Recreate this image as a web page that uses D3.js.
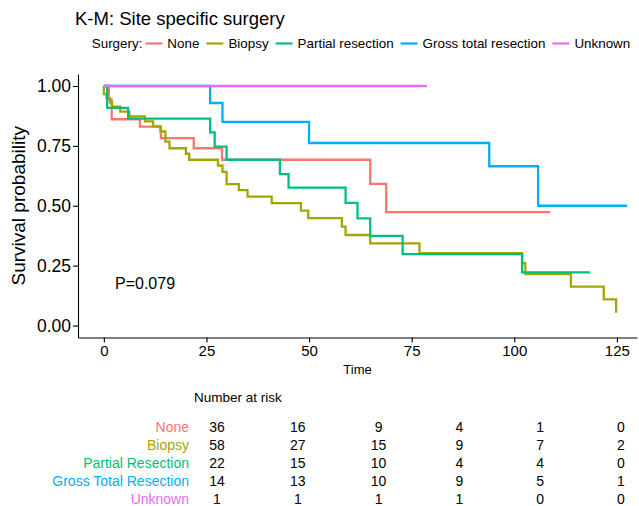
<!DOCTYPE html>
<html>
<head>
<meta charset="utf-8">
<script src="https://cdn.jsdelivr.net/npm/d3@7"></script>
<style>
  body { margin: 0; background: #fff; }
  svg { display: block; font-family: "Liberation Sans", Arial, Helvetica, sans-serif; }
</style>
</head>
<body>
<div id="chart"></div>
<script>
const width = 639;
const height = 506;

// groups, colours and the number-at-risk table
const groups = ["None", "Biopsy", "Partial resection", "Gross total resection", "Unknown"];
const riskLabels = ["None", "Biopsy", "Partial Resection", "Gross Total Resection", "Unknown"];
const colors = ["#F8766D", "#A3A500", "#00BF7D", "#00B0F6", "#E76BF3"];
const xTicks = [0, 25, 50, 75, 100, 125];
const yTicks = [0, 0.25, 0.5, 0.75, 1];
const riskTimes = [0, 25, 50, 75, 100, 125];
const riskNone = [36, 16, 9, 4, 1, 0];
const riskBiopsy = [58, 27, 15, 9, 7, 2];
const riskPartial = [22, 15, 10, 4, 4, 0];
const riskGross = [14, 13, 10, 9, 5, 1];
const riskUnknown = [1, 1, 1, 1, 0, 0];
const pValue = "P=0.079";

// K-M step curves (time, survival)
const noneTime = [0, 1.2, 1.9, 8.8, 13.9, 21.9, 28.8, 64.9, 68.8, 108.8];
const noneSurv = [1, 0.944, 0.861, 0.83, 0.782, 0.74, 0.692, 0.591, 0.473, 0.473];

const biopsyTime = [0, 0, 0.65, 1.5, 2.0, 4.0, 6.2, 10, 12, 13.8, 15.0, 16.0, 20.0, 20.8, 27.8, 28.9, 29.9, 32.9, 35, 40.9, 48, 49.8, 58, 58.9, 64.9, 76.9, 101.9, 102.7, 113.8, 121.8, 124.8];
const biopsySurv = [1, 0.966, 0.948, 0.931, 0.914, 0.893, 0.873, 0.852, 0.831, 0.81, 0.768, 0.74, 0.717, 0.692, 0.668, 0.641, 0.59, 0.565, 0.538, 0.511, 0.48, 0.448, 0.413, 0.378, 0.343, 0.302, 0.26, 0.215, 0.162, 0.109, 0.053];

const partialTime = [0, 0.8, 5.9, 25.9, 27.0, 29.9, 42.9, 45, 58.9, 61.8, 64.9, 72.8, 101.9, 118.5];
const partialSurv = [1, 0.909, 0.864, 0.806, 0.747, 0.692, 0.632, 0.576, 0.512, 0.447, 0.374, 0.298, 0.222, 0.222];

const grossTime = [0, 25.9, 28.9, 50, 93.9, 105.8, 127.5];
const grossSurv = [1, 0.929, 0.85, 0.762, 0.665, 0.5, 0.5];

const unknownTime = [0, 78.7];
const unknownSurv = [1, 1];

const curves = [
  d3.zip(noneTime, noneSurv),
  d3.zip(biopsyTime, biopsySurv),
  d3.zip(partialTime, partialSurv),
  d3.zip(grossTime, grossSurv),
  d3.zip(unknownTime, unknownSurv)
];
const riskRows = [riskNone, riskBiopsy, riskPartial, riskGross, riskUnknown];

const svg = d3.select("#chart").append("svg")
  .attr("width", width)
  .attr("height", height);

// panel scales
const x = d3.scaleLinear().domain([-6.3, 129.9]).range([78, 637]);
const y = d3.scaleLinear().domain([-0.05, 1.05]).range([337.5, 74]);

// title
svg.append("text")
  .attr("x", 75)
  .attr("y", 25)
  .style("font-size", "18.5px")
  .attr("fill", "#000")
  .text("K-M: Site specific surgery");

// legend, centred as one row
const legend = svg.append("g");
legend.append("text")
  .attr("x", 0)
  .attr("y", 48)
  .style("font-size", "13.4px")
  .text("Surgery:");
let lx = legend.select("text").node().getComputedTextLength() + 3;
groups.forEach((name, i) => {
  legend.append("line")
    .attr("x1", lx).attr("x2", lx + 17)
    .attr("y1", 43.5).attr("y2", 43.5)
    .attr("stroke", colors[i])
    .attr("stroke-width", 2.2);
  const t = legend.append("text")
    .attr("x", lx + 22)
    .attr("y", 48)
    .style("font-size", "13.4px")
    .text(name);
  lx += 22 + t.node().getComputedTextLength() + 7;
});
legend.attr("transform", `translate(${361 - (lx - 7) / 2},0)`);

// axes
const xAxis = svg.append("g")
  .attr("transform", `translate(0,${y.range()[0]})`)
  .call(d3.axisBottom(x).tickValues(xTicks).tickSize(5).tickPadding(3).tickSizeOuter(0));
const yAxis = svg.append("g")
  .attr("transform", `translate(${x.range()[0]},0)`)
  .call(d3.axisLeft(y).tickValues(yTicks).tickFormat(d3.format(".2f")).tickSize(5).tickPadding(2).tickSizeOuter(0));

[xAxis, yAxis].forEach(a => {
  a.select(".domain").attr("stroke", "#000").attr("stroke-width", 1.1);
  a.selectAll(".tick line").attr("stroke", "#000").attr("stroke-width", 1.1);
  a.selectAll(".tick text").attr("fill", "#000").style("font-family", "inherit");
});
xAxis.selectAll(".tick text").style("font-size", "15px");
yAxis.selectAll(".tick text").style("font-size", "17.5px");

svg.append("text")
  .attr("x", (x.range()[0] + x.range()[1]) / 2)
  .attr("y", 373.5)
  .attr("text-anchor", "middle")
  .style("font-size", "13px")
  .text("Time");

svg.append("text")
  .attr("transform", `translate(18,${(y.range()[0] + y.range()[1]) / 2}) rotate(-90)`)
  .attr("text-anchor", "middle")
  .attr("dy", "0.35em")
  .style("font-size", "19px")
  .text("Survival probability");

// survival curves
const line = d3.line()
  .x(d => x(d[0]))
  .y(d => y(d[1]))
  .curve(d3.curveStepAfter);

svg.append("g")
  .selectAll("path")
  .data(curves)
  .join("path")
  .attr("d", line)
  .attr("fill", "none")
  .attr("stroke", (d, i) => colors[i])
  .attr("stroke-width", 2.3)
  .attr("stroke-linejoin", "miter");

// p-value
svg.append("text")
  .attr("x", 115)
  .attr("y", 283)
  .attr("dy", "0.35em")
  .style("font-size", "16px")
  .text(pValue);

// number at risk table
const rx = d3.scaleLinear().domain([0, 125]).range([217, 621]);
const ry = d3.scalePoint().domain(d3.range(riskLabels.length)).range([427, 499]);

svg.append("text")
  .attr("x", 194)
  .attr("y", 397)
  .attr("dy", "0.35em")
  .style("font-size", "13.5px")
  .text("Number at risk");

const rows = svg.append("g")
  .selectAll("g")
  .data(riskRows)
  .join("g")
  .attr("transform", (d, i) => `translate(0,${ry(i)})`);

rows.append("text")
  .attr("x", 189)
  .attr("dy", "0.35em")
  .attr("text-anchor", "end")
  .style("font-size", "14px")
  .attr("fill", (d, i) => colors[i])
  .text((d, i) => riskLabels[i]);

rows.selectAll("text.n")
  .data(d => d.map((v, j) => [riskTimes[j], v]))
  .join("text")
  .attr("class", "n")
  .attr("x", d => rx(d[0]))
  .attr("dy", "0.35em")
  .attr("text-anchor", "middle")
  .style("font-size", "14px")
  .text(d => d[1]);
</script>
</body>
</html>
